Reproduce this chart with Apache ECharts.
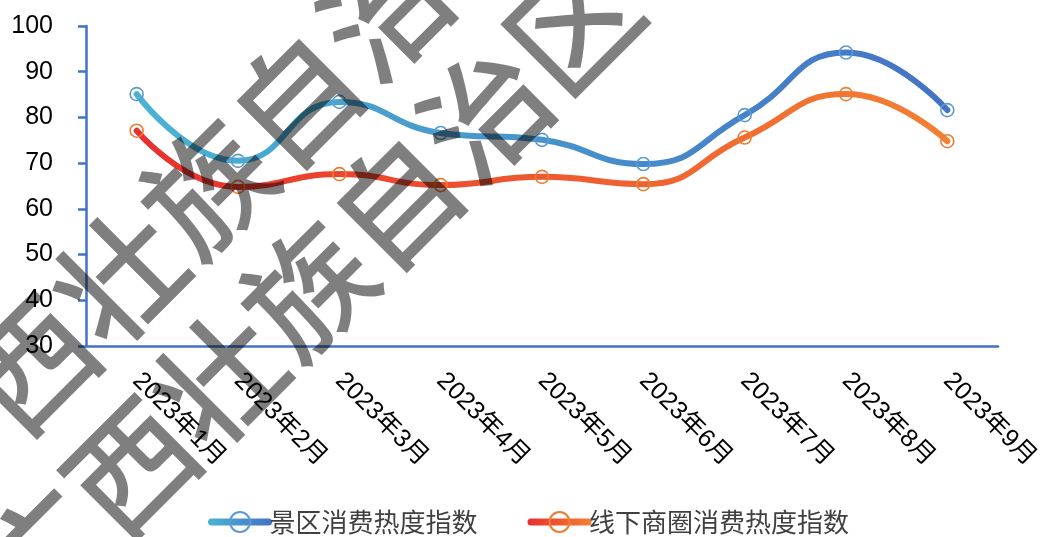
<!DOCTYPE html>
<html>
<head>
<meta charset="utf-8">
<style>
html,body{margin:0;padding:0;background:#fff;}
#chart{width:1045px;height:537px;}
</style>
<script src="https://cdn.jsdelivr.net/npm/echarts@6/dist/echarts.min.js"></script>
</head>
<body>
<div id="chart"></div>
<script>
const categories = ['2023年1月','2023年2月','2023年3月','2023年4月','2023年5月','2023年6月','2023年7月','2023年8月','2023年9月'];
const scenicName = '景区消费热度指数';
const offlineName = '线下商圈消费热度指数';
const scenicValues = [85.1, 70.5, 83.4, 76.6, 75.1, 69.8, 80.5, 94.2, 81.6];
const offlineValues = [77.1, 64.8, 67.6, 65.2, 67.0, 65.4, 75.6, 85.1, 74.8];
const yMin = 30, yMax = 100, yStep = 10;
const watermarkText = '广西壮族自治区';

const latin = "'Liberation Sans', Arial, 'Noto Sans CJK SC', sans-serif";
const cjk = "'Noto Sans CJK SC', sans-serif";

function grad(c0, c1) {
  return new echarts.graphic.LinearGradient(0, 0, 1, 0, [
    {offset: 0, color: c0}, {offset: 1, color: c1}
  ]);
}

const chart = echarts.init(document.getElementById('chart'));
chart.setOption({
  animation: false,
  backgroundColor: '#ffffff',
  grid: {left: 86, right: 47, top: 26, bottom: 191, containLabel: false},
  legend: {
    left: 208, top: 509, padding: 0,
    itemWidth: 57, itemHeight: 25, itemGap: 50,
    lineStyle: {width: 7, cap: 'round'},
    textStyle: {fontFamily: cjk, fontSize: 26, color: '#404040', padding: [0, 0, 0, -4]},
    data: [scenicName, offlineName]
  },
  xAxis: {
    type: 'category', data: categories, boundaryGap: true,
    axisLine: {lineStyle: {color: '#4472C4', width: 2.5}},
    axisTick: {show: false},
    axisLabel: {rotate: -45, margin: 31, fontSize: 25, color: '#000', fontFamily: latin, interval: 0}
  },
  yAxis: {
    type: 'value', min: yMin, max: yMax, interval: yStep,
    axisLine: {show: true, lineStyle: {color: '#4472C4', width: 2.5}},
    axisTick: {show: true, length: 8, lineStyle: {color: '#4472C4', width: 2.5}},
    splitLine: {show: false},
    axisLabel: {fontSize: 25, color: '#000', fontFamily: latin, margin: 33}
  },
  series: [
    {
      name: scenicName, type: 'line', data: scenicValues, smooth: 0.5,
      symbol: 'circle', symbolSize: 13,
      lineStyle: {width: 6, cap: 'round', color: grad('#4BB3D2', '#4472C4')},
      itemStyle: {color: 'rgba(255,255,255,0)', borderColor: '#5B9BD5', borderWidth: 1.6},
      z: 3
    },
    {
      name: offlineName, type: 'line', data: offlineValues, smooth: 0.5,
      symbol: 'circle', symbolSize: 13,
      lineStyle: {width: 6, cap: 'round', color: grad('#E8302F', '#F28132')},
      itemStyle: {color: 'rgba(255,255,255,0)', borderColor: '#ED7D31', borderWidth: 1.6},
      z: 2
    }
  ],
  graphic: [
    {type: 'text', x: 208, y: 188, rotation: Math.PI / 4, z: 100, silent: true,
     style: {text: watermarkText, fontSize: 125, fontWeight: 500, fontFamily: cjk,
             fill: 'rgba(0,0,0,0.5)', align: 'center', verticalAlign: 'middle'}},
    {type: 'text', x: 308, y: 290, rotation: Math.PI / 4, z: 100, silent: true,
     style: {text: watermarkText, fontSize: 125, fontWeight: 500, fontFamily: cjk,
             fill: 'rgba(0,0,0,0.5)', align: 'center', verticalAlign: 'middle'}}
  ]
});
</script>
</body>
</html>
